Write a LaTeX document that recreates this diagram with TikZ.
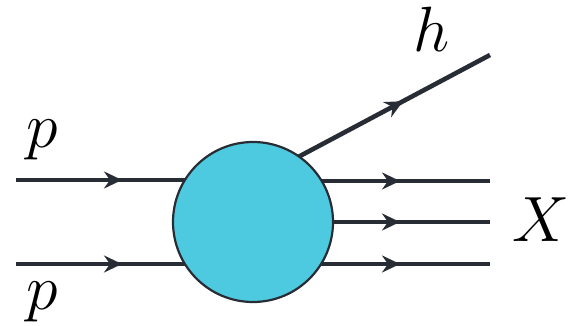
\RequirePackage{fix-cm}
\documentclass[tikz,border=0pt]{standalone}
\usetikzlibrary{arrows.meta,decorations.markings}
\definecolor{blobfill}{RGB}{78,202,224}
\definecolor{linecol}{RGB}{40,44,52}
\begin{document}
\begin{tikzpicture}[x=1pt,y=1pt,
  prt/.style={draw=linecol,line width=4.6pt,
    postaction={decorate,decoration={markings,mark=at position #1 with {\arrow[linecol]{Stealth[length=18pt,width=17pt,inset=6pt]}}}}},
  blob/.style={circle,draw=linecol,line width=2.2pt,fill=blobfill,minimum size=160pt,inner sep=0pt},
  lbl/.style={anchor=base,inner sep=0pt,font=\fontsize{64}{64}\selectfont}]
\useasboundingbox (0,0) rectangle (572,326);
\coordinate (c) at (253,104);
\coordinate (p1) at (16,146);
\coordinate (p2) at (16,62);
\coordinate (x1) at (490,145);
\coordinate (x2) at (490,104);
\coordinate (x3) at (490,62);
\coordinate (hs) at (253,145);
\coordinate (he) at (490,271);
\draw[prt=106pt] (p1) -- (p1 -| c);
\draw[prt=106pt] (p2) -- (p2 -| c);
\draw[prt=147pt] (x1 -| c) -- (x1);
\draw[prt=147pt] (c) -- (x2);
\draw[prt=147pt] (x3 -| c) -- (x3);
\draw[prt=170pt] (hs) -- (he);
\node[blob] (b) at (c) {};
\node[lbl] (lp1) at (42,178) {$p$};
\node[lbl] (lp2) at (42,16) {$p$};
\node[lbl] (lh) at (432,274) {$h$};
\node[lbl] (lx) at (541,84) {$X$};
\end{tikzpicture}
\end{document}
